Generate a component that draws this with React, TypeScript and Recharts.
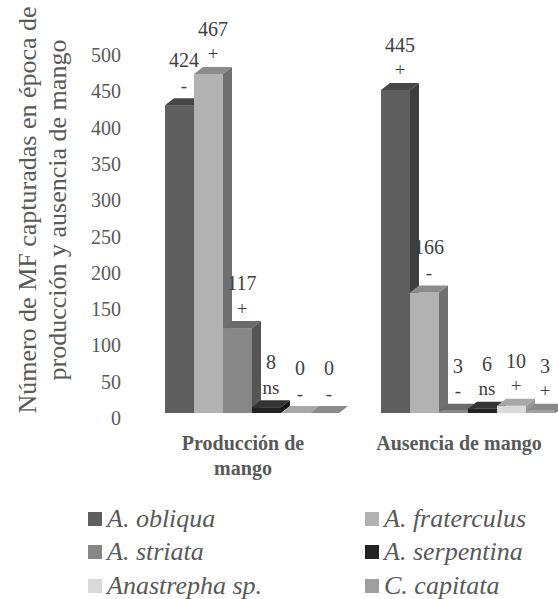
import React from 'react';
import { BarChart, Bar, XAxis, YAxis, LabelList } from 'recharts';

const categories = ['Producción de mango', 'Ausencia de mango'];
const categoryLines = [['Producción de', 'mango'], ['Ausencia de mango']];

const obliqua = [424, 445];
const fraterculus = [467, 166];
const striata = [117, 3];
const serpentina = [8, 6];
const anastrepha = [0, 10];
const capitata = [0, 3];

const obliquaSig = ['-', '+'];
const fraterculusSig = ['+', '-'];
const striataSig = ['+', '-'];
const serpentinaSig = ['ns', 'ns'];
const anastrephaSig = ['-', '+'];
const capitataSig = ['-', '+'];

const yTicks = [0, 50, 100, 150, 200, 250, 300, 350, 400, 450, 500];

const FONT = '"Liberation Serif", "Tinos", "Times New Roman", "DejaVu Serif", serif';
const DX = 9;
const DY = 7;

const series = [
  { key: 'obliqua', name: 'A.', italic: 'obliqua', values: obliqua, sig: obliquaSig, front: '#5f5f5f', top: '#474747', side: '#3d3d3d' },
  { key: 'fraterculus', name: 'A.', italic: 'fraterculus', values: fraterculus, sig: fraterculusSig, front: '#b2b2b2', top: '#8c8c8c', side: '#707070' },
  { key: 'striata', name: 'A.', italic: 'striata', values: striata, sig: striataSig, front: '#878787', top: '#6b6b6b', side: '#555555' },
  { key: 'serpentina', name: 'A.', italic: 'serpentina', values: serpentina, sig: serpentinaSig, front: '#222222', top: '#333333', side: '#151515' },
  { key: 'anastrepha', name: '', italic: 'Anastrepha sp.', values: anastrepha, sig: anastrephaSig, front: '#dadada', top: '#a8a8a8', side: '#9a9a9a' },
  { key: 'capitata', name: 'C.', italic: 'capitata', values: capitata, sig: capitataSig, front: '#a0a0a0', top: '#8a8a8a', side: '#6e6e6e' },
];

const data = categories.map((name, i) => {
  const row: Record<string, string | number> = { name };
  series.forEach((s) => {
    row[s.key] = s.values[i];
  });
  return row;
});

function Bar3D(props: any) {
  const { x, y, width, height, front, top, side } = props;
  if (x == null || y == null) return null;
  const h = Math.max(0, height || 0);
  return (
    <g>
      {h > 0 && <rect x={x} y={y} width={width} height={h} fill={front} />}
      <polygon
        points={`${x},${y} ${x + DX},${y - DY} ${x + width + DX},${y - DY} ${x + width},${y}`}
        fill={top}
      />
      {h > 0 && (
        <polygon
          points={`${x + width},${y} ${x + width + DX},${y - DY} ${x + width + DX},${y + h - DY} ${x + width},${y + h}`}
          fill={side}
        />
      )}
    </g>
  );
}

function makeLabel(sig: string[]) {
  return (props: any) => {
    const { x, y, width, value, index } = props;
    const cx = x + width / 2 + DX / 2;
    return (
      <g>
        <text x={cx} y={y - 45} textAnchor="middle" dominantBaseline="central" style={{ fontFamily: FONT, fontSize: 20, fill: '#404040' }}>
          {value}
        </text>
        <text x={cx} y={y - 20} textAnchor="middle" dominantBaseline="central" style={{ fontFamily: FONT, fontSize: 19, fill: '#404040' }}>
          {sig[index]}
        </text>
      </g>
    );
  };
}

function YTick(props: any) {
  const { y, payload } = props;
  return (
    <text x={121} y={y + 5} textAnchor="end" dominantBaseline="central" style={{ fontFamily: FONT, fontSize: 20, fill: '#595959' }}>
      {payload.value}
    </text>
  );
}

function XTick(props: any) {
  const { x, payload, index } = props;
  const lines = categoryLines[index] || [payload.value];
  return (
    <text textAnchor="middle" style={{ fontFamily: FONT, fontSize: 20, fontWeight: 'bold', fill: '#595959' }}>
      {lines.map((l, i) => (
        <tspan key={i} x={x - 8} y={443 + i * 25} dominantBaseline="central">
          {l}
        </tspan>
      ))}
    </text>
  );
}

function YTitle() {
  return (
    <text
      transform="rotate(-90, 40, 210)"
      textAnchor="middle"
      style={{ fontFamily: FONT, fontSize: 26, fill: '#595959' }}
    >
      <tspan x={40} y={197} dominantBaseline="central">Número de MF capturadas en época de</tspan>
      <tspan x={40} y={227} dominantBaseline="central">producción y ausencia de mango</tspan>
    </text>
  );
}

function LegendBox() {
  const cols = [88, 365];
  const rows = [519, 552, 586];
  return (
    <div style={{ position: 'absolute', left: 0, top: 0, width: 558, height: 599, pointerEvents: 'none' }}>
      {series.map((s, i) => {
        const left = cols[i % 2];
        const cy = rows[Math.floor(i / 2)];
        return (
          <div
            key={s.key}
            style={{
              position: 'absolute',
              left,
              top: cy - 16,
              height: 32,
              display: 'flex',
              alignItems: 'center',
              fontFamily: FONT,
              fontSize: 26,
              fontStyle: 'italic',
              color: '#595959',
              whiteSpace: 'nowrap',
            }}
          >
            <span style={{ width: 14, height: 14, background: s.front, display: 'inline-block', marginRight: 5 }} />
            {s.name ? <span>{s.name}&nbsp;</span> : null}
            <span>{s.italic}</span>
          </div>
        );
      })}
    </div>
  );
}

export default function App() {
  return (
    <div style={{ position: 'absolute', left: 0, top: 0, width: 558, height: 599, overflow: 'hidden', background: '#fff' }}>
      <BarChart
        width={600}
        height={599}
        data={data}
        margin={{ top: 50, right: 25, bottom: 0, left: 0 }}
        barCategoryGap={22}
        barGap={0}
      >
        <XAxis dataKey="name" axisLine={false} tickLine={false} height={186} tick={<XTick />} interval={0} />
        <YAxis
          domain={[0, 500]}
          ticks={yTicks}
          width={143}
          axisLine={false}
          tickLine={false}
          tick={<YTick />}
          label={{ content: () => <YTitle /> }}
        />
        {series.map((s) => (
          <Bar
            key={s.key}
            dataKey={s.key}
            name={s.italic}
            isAnimationActive={false}
            shape={(p: any) => <Bar3D {...p} front={s.front} top={s.top} side={s.side} />}
          >
            <LabelList dataKey={s.key} content={makeLabel(s.sig)} />
          </Bar>
        ))}
      </BarChart>
      <LegendBox />
    </div>
  );
}
